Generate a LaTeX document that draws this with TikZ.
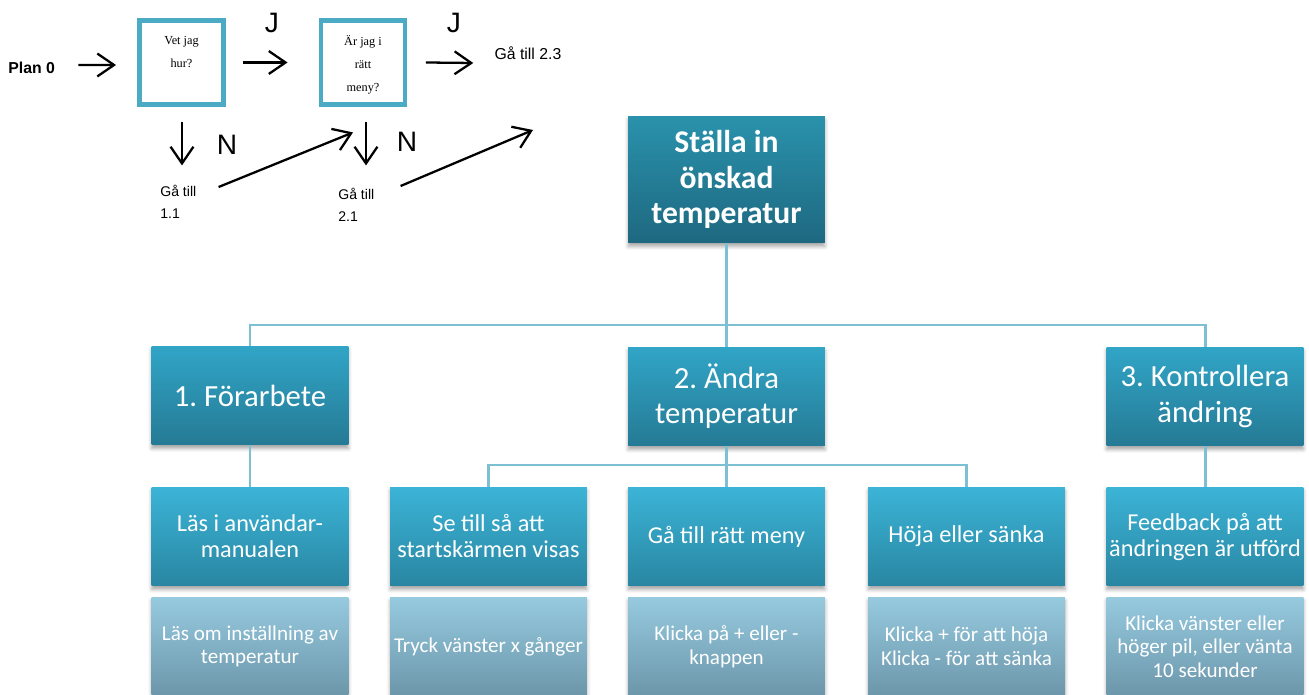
\documentclass[tikz,border=0pt]{standalone}
\usepackage{fontspec}
\newfontfamily\boxfont{Carlito}
\newfontfamily\arialfont{Liberation Sans}
\newfontfamily\timesfont{Liberation Serif}
\usetikzlibrary{
  arrows.meta,
  calc,
  positioning,
  shadows.blur
}
\definecolor{titletop}{RGB}{42,146,172}
\definecolor{titlebot}{RGB}{30,104,128}
\definecolor{phasetop}{RGB}{49,165,199}
\definecolor{phasebot}{RGB}{37,122,148}
\definecolor{steptop}{RGB}{60,180,215}
\definecolor{stepbot}{RGB}{41,134,162}
\definecolor{actiontop}{RGB}{150,202,223}
\definecolor{actionbot}{RGB}{108,150,170}
\definecolor{linkblue}{RGB}{125,192,212}
\definecolor{framecyan}{RGB}{75,170,196}
\frenchspacing

\begin{document}
\begin{tikzpicture}[x=0.02cm, y=-0.02cm,
  boxbase/.style={inner sep=0pt, text=white, align=flush center,
    minimum width=3.94cm, minimum height=1.98cm, text width=3.94cm,
    blur shadow={shadow xshift=0pt, shadow yshift=-2pt,
      shadow blur radius=2pt, shadow opacity=35}},
  titlebox/.style={boxbase, top color=titletop, bottom color=titlebot,
    minimum height=2.54cm, font=\boxfont\bfseries\fontsize{18}{20}\selectfont},
  phasebox/.style={boxbase, top color=phasetop, bottom color=phasebot,
    font=\boxfont\fontsize{17.5}{20}\selectfont},
  stepbox/.style={boxbase, top color=steptop, bottom color=stepbot,
    font=\boxfont\fontsize{13.8}{14.8}\selectfont},
  actionbox/.style={boxbase, top color=actiontop, bottom color=actionbot,
    font=\boxfont\fontsize{12}{13.4}\selectfont},
  link/.style={draw=linkblue, line width=1.7pt},
  qbox/.style={draw=framecyan, line width=2.8pt, inner sep=0pt,
    minimum width=1.68cm, minimum height=1.68cm},
  qtext/.style={inner sep=0pt, align=center,
    font=\timesfont\fontsize{7}{13}\selectfont},
  flowlabel/.style={inner sep=0pt, font=\arialfont\fontsize{9}{11}\selectfont},
  flowarrow/.style={black, line width=1.3pt, -{Straight Barb[length=9.5pt,width=13pt]}}
]
  \useasboundingbox (0,0) rectangle (1309,695);

  % Plan 0 flow
  \node[flowlabel, font=\arialfont\bfseries\fontsize{9}{11}\selectfont, anchor=west] (plan) at (8,68) {Plan 0};
  \node[qbox] (q1) at (181.5,62.5) {};
  \node[qtext, below=0.36cm of q1.north] (q1txt) {Vet jag\\hur?};
  \node[qbox] (q2) at (363,62.5) {};
  \node[qtext, below=0.34cm of q2.north] (q2txt) {Är jag i\\rätt\\meny?};
  \node[flowlabel] (goto23) at (528,53) {Gå till 2.3};
  \node[flowlabel, font=\arialfont\fontsize{16}{18}\selectfont] (j1) at (272,23) {J};
  \node[flowlabel, font=\arialfont\fontsize{16}{18}\selectfont] (j2) at (454,23) {J};
  \node[flowlabel, font=\arialfont\fontsize{16}{18}\selectfont] (n1) at (227,145) {N};
  \node[flowlabel, font=\arialfont\fontsize{16}{18}\selectfont] (n2) at (407,142) {N};
  \node[flowlabel, font=\arialfont\fontsize{8}{12.5}\selectfont, align=left, anchor=north west] (g11) at (160,185) {Gå till\\1.1};
  \node[flowlabel, font=\arialfont\fontsize{8}{12.5}\selectfont, align=left, anchor=north west] (g21) at (338,188) {Gå till\\2.1};
  \coordinate (up23) at (533,130);

  \draw[flowarrow] ($(plan.east)+(23,-3)$) -- ($(q1.west)+(-21,2.5)$);
  \draw[flowarrow] ($(q1.east)+(17.5,0)$) -- ($(q2.west)+(-31,0)$);
  \draw[flowarrow] ($(q2.east)+(18.5,0)$) -- ($(goto23.west)+(-21,10)$);
  \draw[flowarrow] ($(q1.south)+(0.5,15.5)$) -- ($(q1.south)+(0.5,58.5)$);
  \draw[flowarrow] ($(q2.south)+(3,15.5)$) -- ($(q2.south)+(3,58.5)$);
  \draw[flowarrow] ($(g11.north east)+(22,2)$) -- ($(q2.south)+(-10,25.5)$);
  \draw[flowarrow] ($(g21.north east)+(26,-2)$) -- (up23);

  % Task tree
  \node[titlebox] (title) at (726.5,179.5) {Ställa in\\önskad\\temperatur};

  \node[phasebox] (prep) at (250,395.5) {1. Förarbete};
  \node[phasebox] (change) at (726.5,396.5) {2. Ändra\\temperatur};
  \node[phasebox] (check) at (1205,396.5) {3. Kontrollera\\ändring};

  \node[stepbox] (readman) at (250,536.5) {Läs i användar-\\manualen};
  \node[stepbox] (startscr) at (488.5,536.5) {Se till så att\\startskärmen visas};
  \node[stepbox] (menu) at (726.5,536.5) {Gå till rätt meny};
  \node[stepbox] (updown) at (966.5,536.5) {Höja eller sänka};
  \node[stepbox] (feedback) at (1205,536.5) {Feedback på att\\ändringen är utförd};

  \node[actionbox] (readset) at (250,646.5) {Läs om inställning av\\temperatur};
  \node[actionbox] (pressleft) at (488.5,646.5) {Tryck vänster x gånger};
  \node[actionbox] (clickpm) at (726.5,646.5) {Klicka på + eller -\\knappen};
  \node[actionbox] (clickud) at (966.5,646.5) {Klicka + för att höja\\Klicka - för att sänka};
  \node[actionbox] (clickarrow) at (1205,646.5) {Klicka vänster eller\\höger pil, eller vänta\\10 sekunder};

  % Connectors
  \coordinate (bus) at (726.5,325);
  \draw[link] (title.south) -- (bus);
  \draw[link] (prep.north) |- (bus) -| (check.north);
  \draw[link] (bus) -- (change.north);
  \coordinate (bus2) at (726.5,465);
  \draw[link] (change.south) -- (bus2);
  \draw[link] (startscr.north) |- (bus2) -| (updown.north);
  \draw[link] (bus2) -- (menu.north);
  \draw[link] (prep.south) -- (readman.north);
  \draw[link] (check.south) -- (feedback.north);
\end{tikzpicture}
\end{document}
